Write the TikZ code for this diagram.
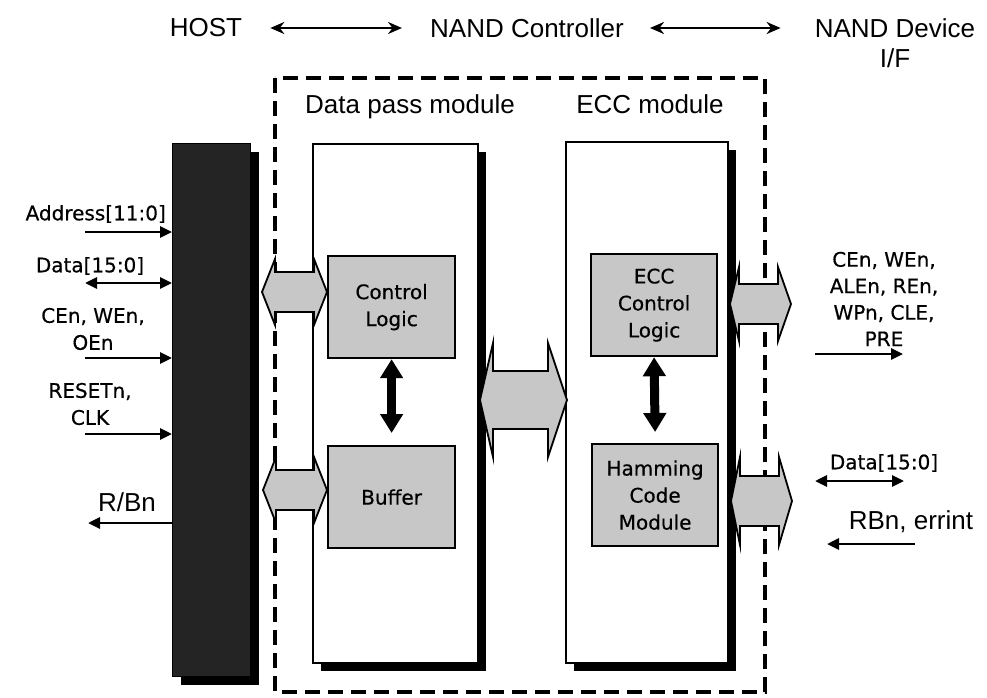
\documentclass[tikz,border=0pt]{standalone}
\usepackage{fontspec}
\setmainfont{Liberation Sans}
\newfontfamily\sigfont{DejaVu Sans}[FakeBold=0.5]
\usetikzlibrary{arrows.meta,calc,shadows}

\tikzset{
  bigtxt/.style={font=\fontsize{26}{30}\selectfont, inner sep=0pt},
  sigtxt/.style={font=\sigfont\fontsize{20}{27}\selectfont, align=center, inner sep=0pt},
  offshadow/.style={drop shadow={shadow xshift=8pt, shadow yshift=-8pt, opacity=1, fill=black}},
  module/.style={draw=black, line width=1.6pt, fill=white, inner sep=0pt, anchor=north west, offshadow},
  logicbox/.style={draw=black, line width=2.2pt, fill=black!22, inner sep=0pt, anchor=north west,
    align=center, font=\sigfont\fontsize{20}{27}\selectfont},
  fatarr/.style={draw=black, line width=1.8pt, fill=black!22, line join=miter},
  sig/.style={line width=2.8pt, -{Triangle[length=12pt,width=11pt]}},
  sigboth/.style={line width=2.8pt, {Triangle[length=12pt,width=11pt]}-{Triangle[length=12pt,width=11pt]}},
  hdrarr/.style={line width=2.8pt, {Stealth[length=14pt,width=12pt]}-{Stealth[length=14pt,width=12pt]}},
  bigarr/.style={line width=9pt, {Triangle[length=19pt,width=22pt]}-{Triangle[length=19pt,width=22pt]}},
  outline/.style={line width=4pt, dash pattern=on 15pt off 8pt},
}

% hollow double bus arrow: left tip, right tip, body half height,
% head half height, left head length, right head length
\newcommand\busarrow[6]{%
  \filldraw[fatarr] let \p1=(#1), \p2=(#2) in
    (\x1,\y1) -- (\x1+#5pt,\y1+#4pt) -- (\x1+#5pt,\y1+#3pt) -- (\x2-#6pt,\y1+#3pt)
    -- (\x2-#6pt,\y1+#4pt) -- (\x2,\y1) -- (\x2-#6pt,\y1-#4pt) -- (\x2-#6pt,\y1-#3pt)
    -- (\x1+#5pt,\y1-#3pt) -- (\x1+#5pt,\y1-#4pt) -- cycle;
}

\begin{document}
\begin{tikzpicture}[x=1pt,y=-1pt]
\useasboundingbox (0,0) rectangle (987,698);

% header row
\node[bigtxt] (host) at (206,28) {HOST};
\node[bigtxt] (ctrl) at (527,28) {NAND Controller};
\node[bigtxt] (dev) at (895,28) {NAND Device};
\node[bigtxt] (if) at (895,58) {I/F};
\draw[hdrarr] ([xshift=28pt]host.east) -- ([xshift=-28pt]ctrl.west);
\draw[hdrarr] ([xshift=26pt]ctrl.east) -- ([xshift=-34pt]dev.west);

% controller boundary
\draw[outline] (275,78) rectangle (765,692);
\node[bigtxt] (dplbl) at (410,107) {Data pass module};
\node[bigtxt] (ecclbl) at (650,104) {ECC module};

% host interface bar
\node[fill=black!86, draw=black, line width=1pt, minimum width=78pt, minimum height=533pt,
  anchor=north west, inner sep=0pt, offshadow] (bar) at (172,143) {};

% modules
\node[module, minimum width=165pt, minimum height=519pt] (dp) at (312,143) {};
\node[module, minimum width=162pt, minimum height=521pt] (ecc) at (565,141) {};

% logic blocks
\node[logicbox, minimum width=127pt, minimum height=102pt] (cl) at (327,255) {Control\\Logic};
\node[logicbox, minimum width=127pt, minimum height=102pt] (buf) at (327,445) {Buffer};
\node[logicbox, minimum width=126pt, minimum height=102pt] (ecl) at (590,253) {ECC\\Control\\Logic};
\node[logicbox, minimum width=126pt, minimum height=102pt] (ham) at (591,443) {Hamming\\Code\\Module};

\draw[bigarr] (cl.south) -- ($(buf.north)+(0,-12)$);
\draw[bigarr] (ecl.south) -- ($(ham.north)+(0,-11)$);

% bus arrows
\coordinate (hb1) at (262,292);
\coordinate (hb2) at (263,490);
\busarrow{hb1}{cl.west |- hb1}{20}{33}{13}{13}
\busarrow{hb2}{buf.west |- hb2}{20}{33}{13}{13}
\coordinate (mb1) at (480,400);
\coordinate (mb2) at (567,400);
\busarrow{mb1}{mb2}{29}{57}{13}{19}
\coordinate (rb1a) at (730,304);
\coordinate (rb1b) at (791,304);
\busarrow{rb1a}{rb1b}{20}{37}{9}{13}
\coordinate (rb2a) at (731,501);
\coordinate (rb2b) at (792,501);
\busarrow{rb2a}{rb2b}{25}{44}{9}{13}

% host side signals
\node[sigtxt, anchor=east] (addr) at (166,214) {Address[11:0]};
\coordinate (s1) at (85,232);
\draw[sig] (s1) -- (s1 -| bar.west);
\node[sigtxt] (hdata) at (90,266) {Data[15:0]};
\coordinate (s2) at (85,283);
\draw[sigboth] (s2) -- (s2 -| bar.west);
\node[sigtxt] (hce) at (93,329) {CEn, WEn,\\OEn};
\coordinate (s3) at (85,358);
\draw[sig] (s3) -- (s3 -| bar.west);
\node[sigtxt] (hrst) at (90,404) {RESETn,\\CLK};
\coordinate (s4) at (85,434);
\draw[sig] (s4) -- (s4 -| bar.west);
\node[bigtxt] (hrb) at (127,502) {R/Bn};
\coordinate (s5) at (88,523);
\draw[sig] (s5 -| bar.west) -- (s5);

% device side signals
\node[sigtxt, font=\sigfont\fontsize{20}{26.5}\selectfont] (dctl) at (884,299) {CEn, WEn,\\ALEn, REn,\\WPn, CLE,\\PRE};
\coordinate (d1a) at (815,354);
\coordinate (d1b) at (903,354);
\draw[sig] (d1a) -- (d1b);
\node[sigtxt] (ddata) at (884,463) {Data[15:0]};
\coordinate (d2a) at (815,481);
\coordinate (d2b) at (904,481);
\draw[sigboth] (d2a) -- (d2b);
\node[bigtxt] (drb) at (911,522) {RBn, errint};
\coordinate (d3a) at (915,544);
\coordinate (d3b) at (827,544);
\draw[sig] (d3a) -- (d3b);
\end{tikzpicture}
\end{document}
